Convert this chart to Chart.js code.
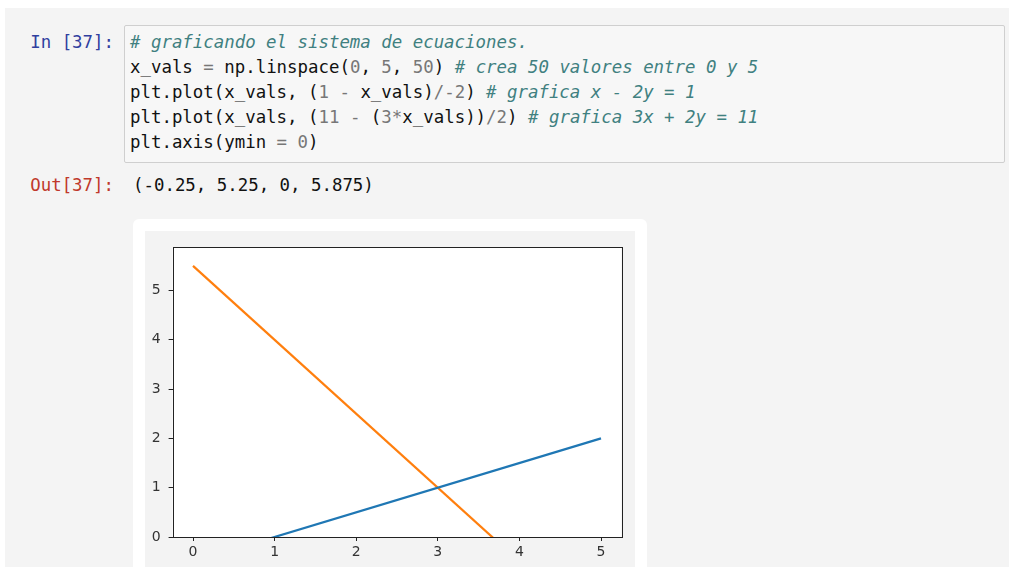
<!DOCTYPE html>
<html>
<head>
<meta charset="utf-8">
<script src="https://cdn.jsdelivr.net/npm/chart.js@4"></script>
<style>
  html, body { margin: 0; padding: 0; background: #fff; overflow: hidden; }
  .page { position: absolute; left: 5px; top: 8px; right: 0; height: 800px; background: #f4f4f4; }
  .mono { font-family: "DejaVu Sans Mono", monospace; font-size: 17.4px; line-height: 25px; white-space: pre; }
  .prompt { position: absolute; width: 110px; text-align: right; }
  .in { left: 4px; top: 30px; color: #303f9f; }
  .out { left: 4px; top: 173px; color: #c0392b; }
  .codebox { position: absolute; left: 124px; top: 25px; width: 881px; height: 138px; box-sizing: border-box;
             border: 1px solid #cfcfcf; border-radius: 2px; background: #f7f7f7; padding: 4px 0 0 5px; color: #111; }
  .c { color: #408080; font-style: italic; }
  .n { color: #777; }
  .o { color: #777; }
  .outtext { position: absolute; left: 133px; top: 173px; color: #111; }
  .card { position: absolute; left: 133px; top: 219px; width: 514px; height: 420px; background: #fff; border-radius: 6px; }
  .fig { position: absolute; left: 145px; top: 231px; width: 490px; height: 400px; background: #f3f3f3; }
  .chartbox { position: absolute; left: 145px; top: 231px; width: 490px; height: 336px; }
</style>
</head>
<body>
<div class="page"></div>
<div class="mono prompt in">In [37]:</div>
<div class="mono codebox"><span class="c"># graficando el sistema de ecuaciones.</span>
x_vals <span class="o">=</span> np.linspace(<span class="n">0</span>, <span class="n">5</span>, <span class="n">50</span>) <span class="c"># crea 50 valores entre 0 y 5</span>
plt.plot(x_vals, (<span class="n">1</span> <span class="o">-</span> x_vals)<span class="o">/-</span><span class="n">2</span>) <span class="c"># grafica x - 2y = 1</span>
plt.plot(x_vals, (<span class="n">11</span> <span class="o">-</span> (<span class="n">3</span><span class="o">*</span>x_vals))<span class="o">/</span><span class="n">2</span>) <span class="c"># grafica 3x + 2y = 11</span>
plt.axis(ymin <span class="o">=</span> <span class="n">0</span>)</div>
<div class="mono prompt out">Out[37]:</div>
<div class="mono outtext">(-0.25, 5.25, 0, 5.875)</div>
<div class="card"></div>
<div class="fig"></div>
<div class="chartbox"><canvas id="chart"></canvas></div>
<script>
// end points of the two lines (the chart area clips them at y = 0)
const xVals = [0, 5];
const line1Y = [-0.5, 2];   // x - 2y = 1
const line2Y = [5.5, -2];   // 3x + 2y = 11
const xTicks = [0, 1, 2, 3, 4, 5];
const yTicks = [0, 1, 2, 3, 4, 5];
const xLimits = [-0.25, 5.25];
const yLimits = [0, 5.875];

const toPoints = ys => xVals.map((x, i) => ({ x: x, y: ys[i] }));

// white axes face and a full box round it, like matplotlib
const frameBox = {
    id: 'frameBox',
    beforeDraw(chart) {
        const a = chart.chartArea;
        chart.ctx.save();
        chart.ctx.fillStyle = '#fff';
        chart.ctx.fillRect(a.left, a.top, a.right - a.left, a.bottom - a.top);
        chart.ctx.restore();
    },
    afterDraw(chart) {
        const a = chart.chartArea;
        const ctx = chart.ctx;
        ctx.save();
        ctx.strokeStyle = '#222';
        ctx.lineWidth = 1;
        ctx.strokeRect(Math.round(a.left) + 0.5, Math.round(a.top) + 0.5,
            Math.round(a.right - a.left), Math.round(a.bottom - a.top));
        ctx.restore();
    }
};

function axisOpts(min, max, ticks, fit) {
    return {
        type: 'linear',
        min: min,
        max: max,
        afterBuildTicks: s => { s.ticks = ticks.map(v => ({ value: v })); },
        afterFit: fit,
        border: { display: false },
        grid: { drawOnChartArea: false, drawTicks: true, tickLength: 4, color: '#222' },
        ticks: {
            font: { family: 'DejaVu Sans', size: 14 },
            color: '#333',
            maxRotation: 0,
            autoSkip: false
        }
    };
}

const xScale = axisOpts(xLimits[0], xLimits[1], xTicks, s => { s.height = 30; });
xScale.ticks.padding = 3;
const yScale = axisOpts(yLimits[0], yLimits[1], yTicks, s => { s.width = 27.6; });
yScale.ticks.padding = 8;

new Chart(document.getElementById('chart'), {
    type: 'line',
    data: {
        datasets: [
            { data: toPoints(line1Y), borderColor: '#1f77b4', borderWidth: 2.2, pointRadius: 0, fill: false },
            { data: toPoints(line2Y), borderColor: '#ff7f0e', borderWidth: 2.2, pointRadius: 0, fill: false }
        ]
    },
    options: {
        responsive: true,
        maintainAspectRatio: false,
        animation: false,
        layout: { padding: { left: 0, top: 14, right: 13.6, bottom: 0 } },
        plugins: { legend: { display: false }, tooltip: { enabled: false } },
        scales: { x: xScale, y: yScale }
    },
    plugins: [frameBox]
});
</script>
</body>
</html>
